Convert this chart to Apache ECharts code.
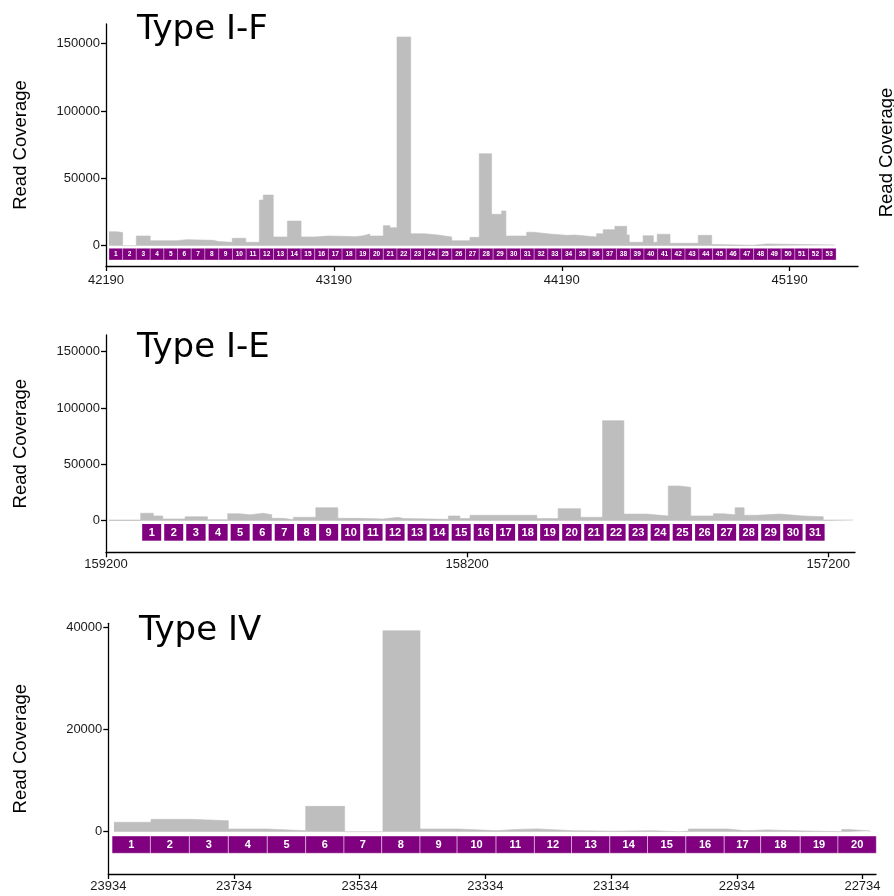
<!DOCTYPE html>
<html>
<head>
<meta charset="utf-8">
<script src="https://cdn.jsdelivr.net/npm/echarts@6/dist/echarts.min.js"></script>
<style>html,body{margin:0;padding:0;background:#fff}#chart{width:894px;height:896px}</style>
</head>
<body>
<div id="chart"></div>
<script>
// ---------------- Type I-F ----------------
const ifTitle = 'Type I-F';
const ifCovPos = [42203, 42233, 42263, 42323, 42384, 42500, 42544, 42661, 42683, 42744, 42803, 42863, 42880, 42924, 42986, 43046, 43106, 43166, 43226, 43287, 43319, 43348, 43407, 43436, 43467, 43527, 43588, 43648, 43707, 43787, 43828, 43882, 43926, 43945, 44036, 44065, 44138, 44211, 44248, 44343, 44372, 44423, 44475, 44486, 44547, 44592, 44609, 44665, 44789, 44848, 44870, 45030, 45089, 45389];
const ifCovVal = [10400, 9800, 0, 7200, 3700, 4500, 4000, 3100, 2500, 5500, 2500, 33900, 37600, 6500, 18300, 6500, 7200, 7000, 6700, 7400, 8700, 7200, 14900, 13400, 155000, 8900, 7900, 6500, 3700, 6200, 68300, 23300, 25800, 7200, 10000, 8700, 7700, 7900, 6500, 8900, 11900, 14400, 8000, 2500, 7400, 2500, 8500, 1800, 7700, 800, 300, 1300, 500, 0];
const ifBoxStart = [42203, 42263, 42323, 42384, 42444, 42504, 42564, 42624, 42685, 42745,
  42805, 42865, 42925, 42986, 43046, 43106, 43166, 43226, 43287, 43347,
  43407, 43467, 43527, 43588, 43648, 43708, 43768, 43828, 43889, 43949,
  44009, 44069, 44129, 44190, 44250, 44310, 44370, 44430, 44491, 44551,
  44611, 44671, 44731, 44792, 44852, 44912, 44972, 45032, 45093, 45153,
  45213, 45273, 45333];
const ifBoxEnd = 45394;
const ifXTicks = [42190, 43190, 44190, 45190];
const ifYTicks = [0, 50000, 100000, 150000];

// ---------------- Type I-E ----------------
const ieTitle = 'Type I-E';
const ieCovPos = [159192, 159104, 159069, 159043, 158981, 158919, 158863, 158829, 158801, 158764, 158741, 158709, 158681, 158619, 158558, 158497, 158432, 158391, 158377, 158252, 158220, 158192, 158007, 157948, 157886, 157825, 157766, 157703, 157643, 157612, 157581, 157518, 157491, 157458, 157433, 157398, 157334, 157269, 157214, 157131];
const ieCovVal = [600, 6600, 4200, 1500, 3500, 900, 6200, 5200, 6600, 5200, 2100, 900, 3000, 11500, 2100, 1500, 3000, 2000, 1200, 4200, 1900, 4800, 1900, 10700, 3000, 88750, 5900, 4200, 30800, 29600, 4200, 6200, 5200, 11500, 4800, 5900, 4200, 3500, 600, 0];
const ieBoxStart = [159104, 159043, 158982, 158920, 158859, 158798, 158737, 158675, 158614, 158553,
  158492, 158430, 158369, 158308, 158247, 158186, 158124, 158063, 158002, 157941,
  157880, 157818, 157757, 157696, 157635, 157573, 157512, 157451, 157390, 157329,
  157267];
const ieBoxEnd = 157206;
const ieXTicks = [159200, 158200, 157200];
const ieYTicks = [0, 50000, 100000, 150000];

// ---------------- Type IV ----------------
const ivTitle = 'Type IV';
const ivCovPos = [23925, 23866, 23804, 23743, 23682, 23620, 23558, 23497, 23438, 23377, 23316, 23284, 23252, 23194, 23157, 23131, 23069, 23027, 23011, 22948, 22921, 22886, 22828, 22767, 22757, 22722];
const ivCovVal = [1840, 2420, 2150, 530, 200, 4960, 0, 39270, 530, 200, 450, 550, 200, 150, 100, 200, 0, 100, 530, 200, 350, 150, 0, 450, 150, 0];
const ivBoxStart = [23928, 23867, 23805, 23743, 23681, 23620, 23559, 23499, 23438, 23379,
  23317, 23256, 23197, 23136, 23076, 23015, 22954, 22896, 22833, 22773];
const ivBoxEnd = 22712;
const ivXTicks = [23934, 23734, 23534, 23334, 23134, 22934, 22734];
const ivYTicks = [0, 20000, 40000];

const yName = 'Read Coverage';
const sideLabel = 'Read Coverage';

// ------------- build --------------
const GRAY = '#bebebe';
const PURPLE = '#800080';
const TICKFONT = 'Liberation Sans, Arial, sans-serif';

function covData(pos, val) { return pos.map((p, i) => [p, val[i]]); }
function boxData(starts, end) {
  return starts.map((s, i) => [s, i + 1 < starts.length ? starts[i + 1] : end, i + 1]);
}

function xAx(gi, min, max, ticks, inverse, margin) {
  return {
    type: 'value', gridIndex: gi, min: min, max: max, inverse: inverse,
    axisLine: { show: true, onZero: false, lineStyle: { color: '#000', width: 1.3 } },
    axisTick: { show: true, length: 5, customValues: ticks, lineStyle: { color: '#000', width: 1.3 } },
    axisLabel: { customValues: ticks, margin: margin, fontSize: 13, color: '#1a1a1a', fontFamily: TICKFONT,
      formatter: v => String(v) },
    splitLine: { show: false }
  };
}
function yAx(gi, min, max, ticks, gap) {
  return {
    type: 'value', gridIndex: gi, min: min, max: max,
    name: yName, nameLocation: 'middle', nameRotate: 90, nameGap: gap,
    nameTextStyle: { fontSize: 18.5, color: '#000', fontFamily: TICKFONT },
    axisLine: { show: true, onZero: false, lineStyle: { color: '#000', width: 1.3 } },
    axisTick: { show: true, length: 5, customValues: ticks, lineStyle: { color: '#000', width: 1.3 } },
    axisLabel: { customValues: ticks, margin: 6, fontSize: 13, color: '#1a1a1a', fontFamily: TICKFONT,
      formatter: v => String(v) },
    splitLine: { show: false }
  };
}
function areaSeries(idx, pos, val) {
  return {
    type: 'line', xAxisIndex: idx, yAxisIndex: idx, step: 'end', showSymbol: false, symbol: 'none',
    data: covData(pos, val), silent: true, animation: false,
    lineStyle: { color: GRAY, width: 0.6 }, areaStyle: { color: GRAY, opacity: 1 }
  };
}
function boxSeries(idx, starts, end, yTop, yBot, gap, fontSize, stroke, strokeW) {
  return {
    type: 'custom', xAxisIndex: idx, yAxisIndex: idx, clip: false, silent: true, animation: false,
    data: boxData(starts, end),
    encode: { x: [0, 1] },
    renderItem: function (params, api) {
      const a = api.coord([api.value(0), yTop]);
      const b = api.coord([api.value(1), yBot]);
      const x0 = Math.min(a[0], b[0]) + gap, x1 = Math.max(a[0], b[0]) - gap;
      const y0 = a[1], y1 = b[1];
      return {
        type: 'group',
        children: [
          { type: 'rect', shape: { x: x0, y: y0, width: x1 - x0, height: y1 - y0 },
            style: { fill: PURPLE, stroke: stroke, lineWidth: strokeW } },
          { type: 'text', style: { text: String(api.value(2)), x: (x0 + x1) / 2, y: (y0 + y1) / 2 + 0.5,
              fill: '#fff', align: 'center', verticalAlign: 'middle',
              fontSize: fontSize, fontWeight: 'bold', fontFamily: TICKFONT } }
        ]
      };
    }
  };
}

const chart = echarts.init(document.getElementById('chart'), null, { renderer: 'canvas' });
const titleFont = { fontSize: 34, fontWeight: 'normal', color: '#000', fontFamily: 'DejaVu Sans, Verdana, sans-serif' };
chart.setOption({
  animation: false,
  backgroundColor: '#fff',
  title: [
    { text: ifTitle, left: 132, top: 8, textStyle: titleFont },
    { text: ieTitle, left: 132, top: 326, textStyle: titleFont },
    { text: ivTitle, left: 134, top: 609, textStyle: titleFont }
  ],
  grid: [
    { left: 106, top: 24, width: 752, height: 242, outerBoundsMode: 'none', containLabel: false },
    { left: 106, top: 335, width: 749, height: 217.3, outerBoundsMode: 'none', containLabel: false },
    { left: 108.3, top: 623.3, width: 767.7, height: 250.7, outerBoundsMode: 'none', containLabel: false }
  ],
  xAxis: [
    xAx(0, 42190, 45490, ifXTicks, false, 8),
    xAx(1, 157126, 159200, ieXTicks, true, 6),
    xAx(2, 22712.5, 23934, ivXTicks, true, 6)
  ],
  yAxis: [
    yAx(0, -15075, 164635, ifYTicks, 76),
    yAx(1, -28045, 164809, ieYTicks, 76),
    yAx(2, -8265, 40721, ivYTicks, 78)
  ],
  series: [
    areaSeries(0, ifCovPos, ifCovVal),
    boxSeries(0, ifBoxStart, ifBoxEnd, -1931, -10619, 0, 6.5, 'rgba(255,255,255,0.45)', 0.7),
    areaSeries(1, ieCovPos, ieCovVal),
    boxSeries(1, ieBoxStart, ieBoxEnd, -2929, -17750, 1.5, 11, null, 0),
    areaSeries(2, ivCovPos, ivCovVal),
    boxSeries(2, ivBoxStart, ivBoxEnd, -840, -4221, 0, 11, 'rgba(255,255,255,0.55)', 0.8)
  ],
  graphic: [
    { type: 'text', x: 887, y: 152.5, rotation: Math.PI / 2, silent: true,
      style: { text: sideLabel, align: 'center', verticalAlign: 'middle', fontSize: 18.5,
        fill: '#000', fontFamily: TICKFONT } }
  ]
});
</script>
</body>
</html>
